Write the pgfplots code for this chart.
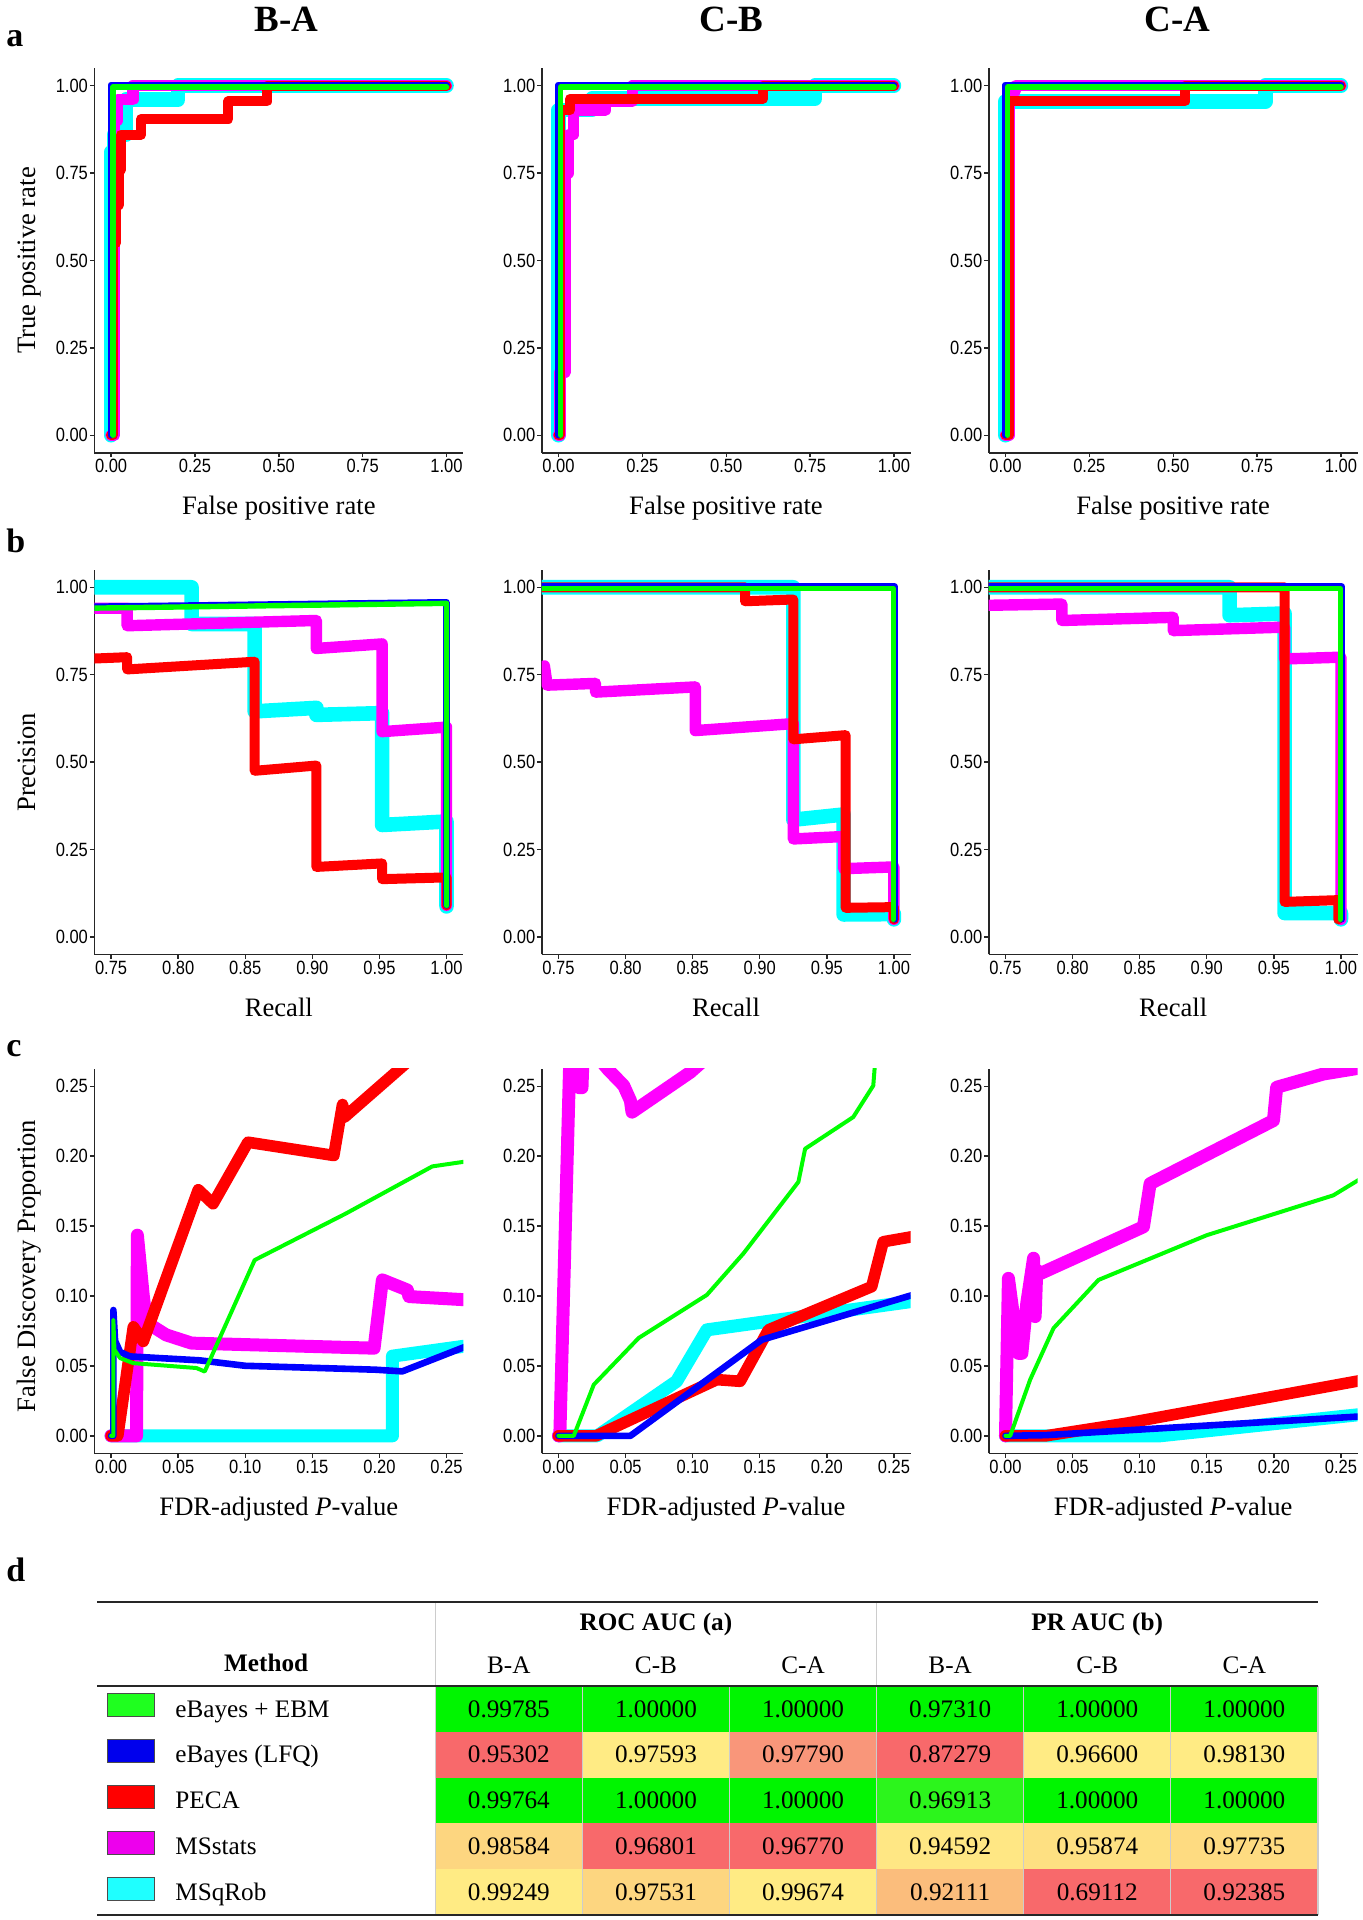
\documentclass[border=0pt]{standalone}
\usepackage{pgfplots}
\pgfplotsset{compat=1.18}
\usepackage{fontspec}
\setmainfont{Liberation Serif}
\setsansfont{Liberation Sans}
\newfontfamily\tickfont{Liberation Sans}[FakeStretch=0.86]
\definecolor{lcy}{RGB}{0,255,255}
\definecolor{lmg}{RGB}{255,0,255}
\definecolor{lrd}{RGB}{255,0,0}
\definecolor{lbl}{RGB}{0,0,255}
\definecolor{lgr}{RGB}{0,255,0}
% table colours
\definecolor{tg}{HTML}{00F500}
\definecolor{tgb}{HTML}{2CF51C}
\definecolor{tr}{HTML}{F8696B}
\definecolor{ty}{HTML}{FFEB84}
\definecolor{tsal}{HTML}{F9967A}
\definecolor{tlo}{HTML}{FDD680}
\definecolor{tyy}{HTML}{FFE784}
\definecolor{tyo}{HTML}{FEE082}
\definecolor{tdo}{HTML}{FEDB81}
\definecolor{tor}{HTML}{FBBD7C}
\pgfplotsset{
  panel/.style={scale only axis, width=184.5pt, height=192.25pt,
    axis x line*=bottom, axis y line*=left,
    axis line style={-, line width=0.8pt, black!85},
    tick align=outside, major tick length=2.2pt,
    tick style={line width=0.7pt, black!85},
    ticklabel style={font=\tickfont\fontsize{9.6}{11}\selectfont, black, inner sep=0pt},
    yticklabel style={xshift=-0.8pt},
    xticklabel style={yshift=-0.8pt},
    /pgf/number format/assume math mode=true,
    /pgf/number format/fixed, /pgf/number format/fixed zerofill,
    /pgf/number format/precision=2, scaled ticks=false, anchor=south west},
  roc/.style={panel, xmin=-0.05, xmax=1.05, ymin=-0.05, ymax=1.05,
    xtick={0,0.25,0.5,0.75,1}, ytick={0,0.25,0.5,0.75,1}},
  pr/.style={panel, xmin=0.7375, xmax=1.0125, ymin=-0.05, ymax=1.05,
    xtick={0.75,0.8,0.85,0.9,0.95,1}, ytick={0,0.25,0.5,0.75,1}},
  fdp/.style={panel, xmin=-0.0125, xmax=0.2625, ymin=-0.0125, ymax=0.2625,
    xtick={0,0.05,0.1,0.15,0.2,0.25}, ytick={0,0.05,0.1,0.15,0.2,0.25}},
  ln/.style={line cap=round, line join=round},
  cyA/.style={ln, lcy, line width=7.3pt},
  mgA/.style={ln, lmg, line width=5.7pt},
  rdA/.style={ln, lrd, line width=5.0pt},
  blA/.style={ln, lbl, line width=3.3pt},
  grA/.style={ln, lgr, line width=2.7pt},
  cyC/.style={ln, lcy, line width=6.5pt},
  mgC/.style={ln, lmg, line width=6.5pt},
  rdC/.style={ln, lrd, line width=5.8pt},
  blC/.style={ln, lbl, line width=3.3pt},
  grC/.style={ln, lgr, line width=2.0pt},
}
\newcommand\tabfont{\fontsize{12.6}{15}\selectfont}
\newcommand\cell[4]{%
  \fill[#3] ({217.65+#2*73.55},{-842.85-#1*22.95}) rectangle ({217.65+(#2+1)*73.55},{-842.85-(#1+1)*22.95});
  \node[anchor=base, font=\tabfont, inner sep=0pt] at ({217.65+(#2+0.5)*73.55},{-842.85-(#1+0.5)*22.95-4.2}) {#4};}
\newcommand\method[3]{%
  \filldraw[fill=#2, draw=black!70, line width=0.5pt] (53.5,{-842.85-#1*22.95-3.85}) rectangle (77,{-842.85-#1*22.95-15.55});
  \node[anchor=base west, font=\tabfont, inner sep=0pt] at (87.5,{-842.85-(#1+0.5)*22.95-4.2}) {#3};}
\begin{document}
\begin{tikzpicture}
% ---------------- Row a: ROC ----------------
\begin{axis}[roc, at={(47.15pt,-226.35pt)}]
\addplot[cyA] coordinates {(0,0) (0,0.81) (0.01,0.81) (0.01,0.86) (0.045,0.86) (0.045,0.96) (0.2,0.96) (0.2,1) (1,1)};
\addplot[mgA] coordinates {(0,0) (0.01,0) (0.01,0.9) (0.02,0.9) (0.02,0.96) (0.065,0.96) (0.065,1) (1,1)};
\addplot[rdA] coordinates {(0,0) (0.005,0) (0.005,0.55) (0.015,0.55) (0.015,0.66) (0.025,0.66) (0.025,0.76) (0.03,0.76) (0.03,0.86) (0.09,0.86) (0.09,0.905) (0.35,0.905) (0.35,0.955) (0.465,0.955) (0.465,1) (1,1)};
\addplot[blA] coordinates {(0,0) (0,1.002) (1,1.002)};
\addplot[grA] coordinates {(0.006,0) (0.006,0.996) (1,0.996)};
\end{axis}
\begin{axis}[roc, at={(270.85pt,-226.35pt)}]
\addplot[cyA] coordinates {(0,0) (0,0.93) (0.1,0.93) (0.1,0.963) (0.765,0.963) (0.765,1) (1,1)};
\addplot[mgA] coordinates {(0,0) (0.005,0) (0.005,0.18) (0.02,0.18) (0.02,0.75) (0.03,0.75) (0.03,0.86) (0.045,0.86) (0.045,0.93) (0.14,0.93) (0.14,0.955) (0.22,0.955) (0.22,1) (1,1)};
\addplot[rdA] coordinates {(0,0) (0.005,0) (0.005,0.93) (0.035,0.93) (0.035,0.963) (0.61,0.963) (0.61,1) (1,1)};
\addplot[blA] coordinates {(0,0) (0,1.002) (1,1.002)};
\addplot[grA] coordinates {(0.006,0) (0.006,0.996) (1,0.996)};
\end{axis}
\begin{axis}[roc, at={(494.35pt,-226.35pt)}]
\addplot[cyA] coordinates {(0,0) (0,0.955) (0.775,0.955) (0.775,1) (1,1)};
\addplot[mgA] coordinates {(0,0) (0.01,0) (0.01,0.985) (0.03,0.985) (0.03,1) (1,1)};
\addplot[rdA] coordinates {(0,0) (0.01,0) (0.01,0.955) (0.535,0.955) (0.535,1) (1,1)};
\addplot[blA] coordinates {(0,0) (0,1.002) (1,1.002)};
\addplot[grA] coordinates {(0.006,0) (0.006,0.996) (1,0.996)};
\end{axis}
% ---------------- Row b: PR ----------------
\begin{axis}[pr, at={(47.15pt,-477.15pt)}]
\addplot[cyA] coordinates {(0.73,1.0) (0.81,1.0) (0.81,0.895) (0.857,0.895) (0.857,0.645) (0.903,0.655) (0.903,0.635) (0.952,0.64) (0.952,0.32) (1.0,0.33) (1.0,0.087)};
\addplot[mgA] coordinates {(0.73,0.94) (0.762,0.94) (0.762,0.89) (0.903,0.905) (0.903,0.825) (0.952,0.838) (0.952,0.587) (1.0,0.60) (1.0,0.09)};
\addplot[rdA] coordinates {(0.73,0.795) (0.762,0.80) (0.762,0.765) (0.857,0.787) (0.857,0.475) (0.903,0.49) (0.903,0.2) (0.952,0.21) (0.952,0.165) (1.0,0.17) (1.0,0.09)};
\addplot[blA] coordinates {(0.73,0.944) (1.0,0.957) (1.0,0.09)};
\addplot[grA] coordinates {(0.73,0.94) (1.0,0.954) (1.0,0.09)};
\end{axis}
\begin{axis}[pr, at={(270.85pt,-477.15pt)}]
\addplot[cyA] coordinates {(0.73,1) (0.925,1) (0.925,0.335) (0.9625,0.35) (0.9625,0.064) (1.0,0.065) (1.0,0.05)};
\addplot[mgA] coordinates {(0.7395,0.775) (0.7416,0.72) (0.7776,0.725) (0.7776,0.70) (0.852,0.715) (0.852,0.59) (0.925,0.61) (0.925,0.28) (0.9625,0.287) (0.9625,0.195) (1.0,0.2) (1.0,0.05)};
\addplot[rdA] coordinates {(0.73,1.0) (0.889,1.0) (0.889,0.96) (0.925,0.965) (0.925,0.565) (0.964,0.577) (0.964,0.083) (1.0,0.085) (1.0,0.05)};
\addplot[blA] coordinates {(0.73,1.002) (1.0005,1.002) (1.0005,0.05)};
\addplot[grA] coordinates {(0.73,0.996) (0.9995,0.996) (0.9995,0.05)};
\end{axis}
\begin{axis}[pr, at={(494.35pt,-477.15pt)}]
\addplot[cyA] coordinates {(0.73,1) (0.917,1) (0.917,0.92) (0.958,0.925) (0.958,0.068) (1,0.068) (1,0.05)};
\addplot[mgA] coordinates {(0.73,0.948) (0.792,0.952) (0.792,0.905) (0.875,0.914) (0.875,0.876) (0.958,0.886) (0.958,0.795) (1.0,0.80) (1.0,0.05)};
\addplot[rdA] coordinates {(0.73,1) (0.958,1) (0.958,0.10) (0.998,0.105) (0.998,0.05)};
\addplot[blA] coordinates {(0.73,1.002) (1.0005,1.002) (1.0005,0.05)};
\addplot[grA] coordinates {(0.73,0.996) (0.9995,0.996) (0.9995,0.05)};
\end{axis}
% ---------------- Row c: FDP ----------------
\begin{axis}[fdp, at={(47.15pt,-726.65pt)}]
\addplot[cyC] coordinates {(0,0) (0.2097,0) (0.2097,0.057) (0.27,0.065)};
\addplot[mgC] coordinates {(0,0) (0.019,0) (0.0196,0.1435) (0.024,0.1) (0.0265,0.081) (0.041,0.0722) (0.06,0.0663) (0.196,0.0627) (0.2022,0.1115) (0.2208,0.1043) (0.222,0.0996) (0.27,0.097)};
\addplot[rdC] coordinates {(0,0) (0.005,0) (0.0166,0.078) (0.024,0.0675) (0.065,0.176) (0.076,0.166) (0.102,0.21) (0.166,0.2005) (0.1725,0.237) (0.174,0.228) (0.23,0.275)};
\addplot[blC] coordinates {(0,0) (0.0017,0) (0.0017,0.09) (0.003,0.068) (0.0067,0.06) (0.014,0.0568) (0.066,0.054) (0.1,0.0501) (0.197,0.0473) (0.217,0.0461) (0.27,0.066)};
\addplot[grC] coordinates {(0,0) (0.0017,0) (0.0017,0.083) (0.0025,0.0616) (0.0067,0.0556) (0.0166,0.052) (0.0636,0.0485) (0.0698,0.046) (0.107,0.1257) (0.175,0.159) (0.2394,0.1927) (0.27,0.197)};
\end{axis}
\begin{axis}[fdp, at={(270.85pt,-726.65pt)}]
\addplot[cyC] coordinates {(0,0) (0.029,0) (0.088,0.039) (0.1106,0.0758) (0.27,0.097)};
\addplot[mgC] coordinates {(0,0) (0.001,0) (0.009,0.29) (0.014,0.29) (0.0155,0.249) (0.0175,0.249) (0.019,0.29) (0.03,0.27) (0.037,0.262) (0.0486,0.2505) (0.0536,0.2398) (0.0548,0.2315) (0.0982,0.26) (0.11,0.27)};
\addplot[rdC] coordinates {(0,0) (0.028,0) (0.118,0.0402) (0.1354,0.039) (0.1565,0.0758) (0.2334,0.1067) (0.242,0.1388) (0.27,0.1435)};
\addplot[blC] coordinates {(0,0) (0.0536,0) (0.1515,0.0687) (0.27,0.1025)};
\addplot[grC] coordinates {(0,0) (0.0114,0) (0.0263,0.0366) (0.0598,0.07) (0.1106,0.1008) (0.1379,0.1305) (0.1788,0.1816) (0.1838,0.2053) (0.2197,0.228) (0.2346,0.2505) (0.237,0.28)};
\end{axis}
\begin{axis}[fdp, at={(494.35pt,-726.65pt)}]
\addplot[cyC] coordinates {(0,0) (0.115,0) (0.27,0.0158)};
\addplot[mgC] coordinates {(0,0) (0.0022,0.1126) (0.0097,0.059) (0.0122,0.059) (0.0159,0.095) (0.0209,0.127) (0.0221,0.0853) (0.0233,0.1186) (0.0258,0.116) (0.1028,0.1495) (0.1078,0.1804) (0.1997,0.2255) (0.2021,0.2493) (0.237,0.2588) (0.27,0.264)};
\addplot[rdC] coordinates {(0,0) (0.03,0) (0.09,0.009) (0.27,0.0405)};
\addplot[blC] coordinates {(0,0) (0.03,0.0005) (0.27,0.0142)};
\addplot[grC] coordinates {(0,0) (0.0035,0) (0.0184,0.0402) (0.0358,0.077) (0.0693,0.1115) (0.15,0.1435) (0.2443,0.172) (0.27,0.187)};
\end{axis}
% ---------------- texts and table ----------------
\begin{scope}[x=1pt, y=1pt]
\path (0,0) rectangle (681,-960);
% panel letters
\foreach \l/\yy in {a/-23.5, b/-276, c/-528.3, d/-790.9}
  \node[anchor=base west, inner sep=0pt, font=\bfseries\fontsize{17}{20}\selectfont] at (3,\yy) {\l};
% titles
\foreach \t/\xx in {B-A/143.35, C-B/365.85, C-A/588.75}
  \node[anchor=base, inner sep=0pt, font=\bfseries\fontsize{18.5}{22}\selectfont] at (\xx,-15.85) {\t};
% x labels
\foreach \xx in {139.4, 363, 586.6} {
  \node[anchor=base, inner sep=0pt, font=\fontsize{13.3}{16}\selectfont] at (\xx,-257.2) {False positive rate};
  \node[anchor=base, inner sep=0pt, font=\fontsize{13.3}{16}\selectfont] at (\xx,-508) {Recall};
  \node[anchor=base, inner sep=0pt, font=\fontsize{13.3}{16}\selectfont] at (\xx,-757.5) {FDR-adjusted \textit{P}-value};
}
% y labels
\node[rotate=90, anchor=base, inner sep=0pt, font=\fontsize{13.3}{16}\selectfont] at (17.5,-130.25) {True positive rate};
\node[rotate=90, anchor=base, inner sep=0pt, font=\fontsize{13.3}{16}\selectfont] at (17.5,-381.1) {Precision};
\node[rotate=90, anchor=base, inner sep=0pt, font=\fontsize{13.3}{16}\selectfont] at (17.5,-633) {False Discovery Proportion};
% table cells
\cell{0}{0}{tg}{0.99785}\cell{0}{1}{tg}{1.00000}\cell{0}{2}{tg}{1.00000}\cell{0}{3}{tg}{0.97310}\cell{0}{4}{tg}{1.00000}\cell{0}{5}{tg}{1.00000}
\cell{1}{0}{tr}{0.95302}\cell{1}{1}{ty}{0.97593}\cell{1}{2}{tsal}{0.97790}\cell{1}{3}{tr}{0.87279}\cell{1}{4}{ty}{0.96600}\cell{1}{5}{ty}{0.98130}
\cell{2}{0}{tg}{0.99764}\cell{2}{1}{tg}{1.00000}\cell{2}{2}{tg}{1.00000}\cell{2}{3}{tgb}{0.96913}\cell{2}{4}{tg}{1.00000}\cell{2}{5}{tg}{1.00000}
\cell{3}{0}{tlo}{0.98584}\cell{3}{1}{tr}{0.96801}\cell{3}{2}{tr}{0.96770}\cell{3}{3}{tyy}{0.94592}\cell{3}{4}{tyo}{0.95874}\cell{3}{5}{tdo}{0.97735}
\cell{4}{0}{ty}{0.99249}\cell{4}{1}{tlo}{0.97531}\cell{4}{2}{ty}{0.99674}\cell{4}{3}{tor}{0.92111}\cell{4}{4}{tr}{0.69112}\cell{4}{5}{tr}{0.92385}
% cell separators
\foreach \k in {0,...,6}
  \draw[black!20, line width=0.6pt] ({217.65+\k*73.55},-842.85) -- ({217.65+\k*73.55},-957.6);
\draw[black!20, line width=0.6pt] (217.65,-800.85) -- (217.65,-842.85);
\draw[black!20, line width=0.6pt] (438.3,-800.85) -- (438.3,-842.85);
% methods
\method{0}{lgr!88!white}{eBayes + EBM}
\method{1}{lbl!93!black}{eBayes (LFQ)}
\method{2}{lrd}{PECA}
\method{3}{lmg!93!black}{MSstats}
\method{4}{lcy!88!white}{MSqRob}
% headers
\node[anchor=base, inner sep=0pt, font=\bfseries\tabfont] at (327.975,-815) {ROC AUC (a)};
\node[anchor=base, inner sep=0pt, font=\bfseries\tabfont] at (548.6,-815) {PR AUC (b)};
\node[anchor=base, inner sep=0pt, font=\bfseries\tabfont] at (133.1,-835.85) {Method};
\foreach \h [count=\i from 0] in {B-A,C-B,C-A,B-A,C-B,C-A}
  \node[anchor=base, inner sep=0pt, font=\tabfont] at ({217.65+(\i+0.5)*73.55},-836.65) {\h};
% rules
\draw[black!85, line width=1pt] (48.5,-800.85) -- (658.95,-800.85);
\draw[black!85, line width=1pt] (48.5,-842.85) -- (658.95,-842.85);
\draw[black!85, line width=1pt] (48.5,-957.6) -- (658.95,-957.6);
\end{scope}
\end{tikzpicture}
\end{document}
